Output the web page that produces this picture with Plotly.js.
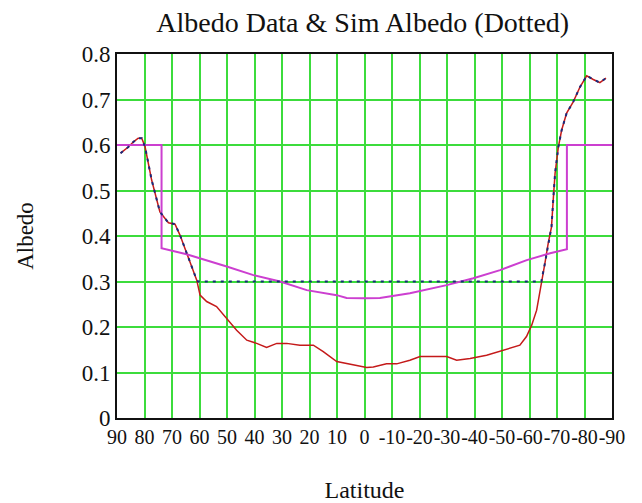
<!DOCTYPE html>
<html>
<head>
<meta charset="utf-8">
<script src="https://cdn.plot.ly/plotly-3.0.1.min.js"></script>
<style>html,body{margin:0;padding:0;background:#fff;}#chart{width:642px;height:503px;}</style>
</head>
<body>
<div id="chart"></div>
<script>
// Observed albedo data (red)
const latData = [88.7, 86, 84, 82.3, 81, 79.8, 77.4, 74.4, 71.3, 68.9, 67.1, 65.3, 63.5, 61, 59.8, 57.4, 53.8, 50.1, 46.5, 42.8, 39.2, 35.6, 31.9, 28.3, 23.5, 18.6, 15, 10.1, 6.5, 2.8, -0.8, -3.2, -8, -11.7, -16.5, -20.2, -29.9, -33.5, -38.4, -44.4, -50.5, -56.5, -58.9, -60.8, -62.6, -64.4, -65.6, -66.8, -68, -68.7, -69.3, -70.5, -71.7, -73.5, -75.9, -78.4, -80.8, -83.2, -85.6, -87.8];
const albedoData = [0.582, 0.595, 0.607, 0.615, 0.615, 0.596, 0.523, 0.453, 0.429, 0.426, 0.402, 0.373, 0.344, 0.303, 0.270, 0.256, 0.245, 0.219, 0.193, 0.171, 0.164, 0.155, 0.164, 0.164, 0.160, 0.160, 0.146, 0.124, 0.120, 0.116, 0.111, 0.112, 0.119, 0.119, 0.127, 0.135, 0.135, 0.127, 0.131, 0.138, 0.149, 0.160, 0.179, 0.204, 0.237, 0.296, 0.340, 0.384, 0.420, 0.486, 0.538, 0.596, 0.633, 0.670, 0.695, 0.728, 0.752, 0.744, 0.737, 0.747];

// Simulated albedo (dotted)
const latSim = [88.7, 86, 84, 82.3, 81, 79.8, 77.4, 74.4, 71.3, 68.9, 67.1, 65.3, 63.5, 61, 60.5, -64.3, -65.6, -66.8, -68, -68.7, -69.3, -70.5, -71.7, -73.5, -75.9, -78.4, -80.8, -83.2, -85.6, -87.8];
const albedoSim = [0.582, 0.595, 0.607, 0.615, 0.615, 0.596, 0.523, 0.453, 0.429, 0.426, 0.402, 0.373, 0.344, 0.303, 0.300, 0.300, 0.340, 0.384, 0.420, 0.486, 0.538, 0.596, 0.633, 0.670, 0.695, 0.728, 0.752, 0.744, 0.737, 0.747];

// Model albedo (magenta)
const latModel = [90, 73.8, 73.8, 64.7, 50.1, 40.4, 30.7, 21, 10.1, 6.5, 0, -5.6, -16.5, -29.9, -39.6, -49.3, -59, -67.5, -73.6, -73.6, -90];
const albedoModel = [0.6, 0.6, 0.373, 0.360, 0.333, 0.314, 0.300, 0.281, 0.270, 0.264, 0.263, 0.264, 0.274, 0.292, 0.307, 0.325, 0.347, 0.362, 0.371, 0.6, 0.6];

// Axis ticks
const xTicks = [90, 80, 70, 60, 50, 40, 30, 20, 10, 0, -10, -20, -30, -40, -50, -60, -70, -80, -90];
const xTickText = ["90", "80", "70", "60", "50", "40", "30", "20", "10", "0", "-10", "-20", "-30", "-40", "-50", "-60", "-70", "-80", "-90"];
const yTicks = [0, 0.1, 0.2, 0.3, 0.4, 0.5, 0.6, 0.7, 0.8];
const yTickText = ["0", "0.1", "0.2", "0.3", "0.4", "0.5", "0.6", "0.7", "0.8"];

const serif = "Liberation Serif, Times New Roman, serif";

const traces = [
  {x: latData, y: albedoData, type: 'scatter', mode: 'lines', line: {color: '#c41a1a', width: 1.5}, hoverinfo: 'skip'},
  {x: latModel, y: albedoModel, type: 'scatter', mode: 'lines', line: {color: '#cc3fd0', width: 2}, hoverinfo: 'skip'},
  {x: latSim, y: albedoSim, type: 'scatter', mode: 'lines', line: {color: '#1a2a7a', width: 2, dash: '3px,5px'}, hoverinfo: 'skip'}
];

const layout = {
  width: 642, height: 503,
  margin: {l: 117, r: 30, t: 54, b: 85},
  paper_bgcolor: '#fff', plot_bgcolor: '#fff',
  showlegend: false,
  font: {family: serif, size: 23, color: '#111'},
  title: {text: 'Albedo Data &amp; Sim Albedo (Dotted)', font: {family: serif, size: 28, color: '#111'}, x: 0.565, xanchor: 'center', y: 0.956, yanchor: 'middle'},
  xaxis: {
    range: [90, -90], tickmode: 'array', tickvals: xTicks, ticktext: xTickText, tickangle: 0,
    showgrid: true, gridcolor: '#3cdc3c', gridwidth: 2, zeroline: false,
    showline: true, linecolor: '#111', linewidth: 2, mirror: true, ticks: '',
    tickfont: {family: serif, size: 20, color: '#111'},
    title: {text: 'Latitude', font: {family: serif, size: 24, color: '#111'}, standoff: 35}
  },
  yaxis: {
    range: [0, 0.8], tickmode: 'array', tickvals: yTicks, ticktext: yTickText,
    showgrid: true, gridcolor: '#3cdc3c', gridwidth: 2, zeroline: false,
    showline: true, linecolor: '#111', linewidth: 2, mirror: true, ticks: '',
    tickfont: {family: serif, size: 23, color: '#111'},
    title: {text: 'Albedo', font: {family: serif, size: 23, color: '#111'}, standoff: 42}
  }
};

Plotly.newPlot('chart', traces, layout, {staticPlot: true, displayModeBar: false});
</script>
</body>
</html>
